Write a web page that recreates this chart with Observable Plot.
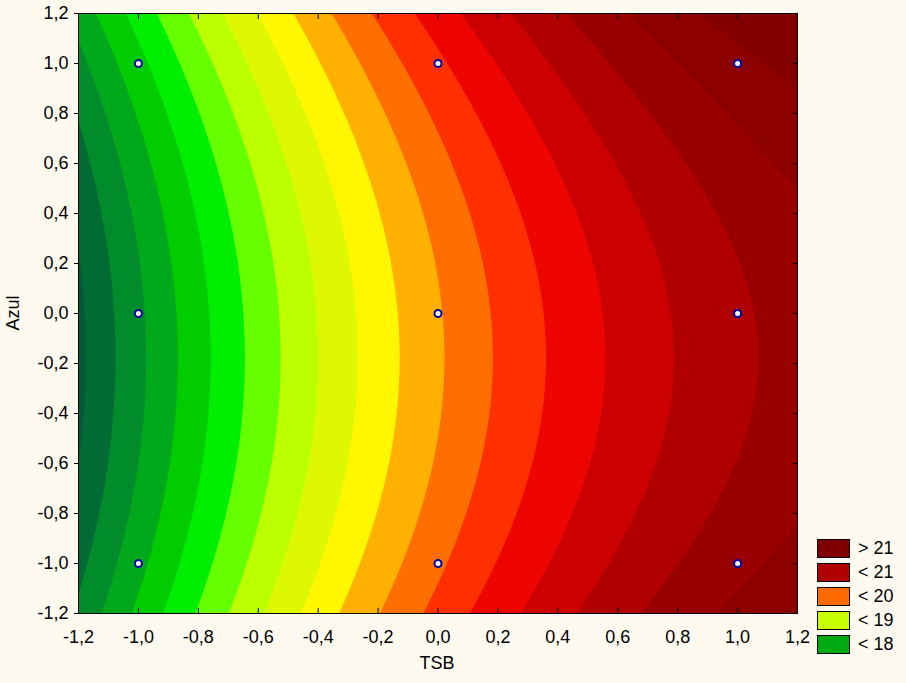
<!DOCTYPE html>
<html><head><meta charset="utf-8">
<script src="https://cdn.jsdelivr.net/npm/d3@7"></script>
<script src="https://cdn.jsdelivr.net/npm/@observablehq/plot@0.6"></script>
<style>
body{margin:0;background:#FFFAF0;}
#wrap{position:relative;width:906px;height:683px;font-family:"Liberation Sans",Arial,sans-serif;color:#000;overflow:hidden;}
#legend{position:absolute;left:817px;top:539px;}
.item{position:relative;height:24px;}
.sw{position:absolute;left:0;top:0;width:33px;height:19px;border:1px solid #000;box-sizing:border-box;}
.lb{position:absolute;left:41px;top:-2px;font-size:18px;line-height:22px;white-space:nowrap;}
.xt{position:absolute;left:0;width:874px;text-align:center;top:653px;font-size:18px;}
.yt{position:absolute;left:13px;top:313px;font-size:18px;transform:translate(-50%,-50%) rotate(-90deg);white-space:nowrap;}
</style>
</head><body>
<div id="wrap"><div id="chart"></div>
<div class="xt">TSB</div>
<div class="yt">Azul</div>
<div id="legend"></div>
</div>
<script>
// design points (coded levels) and fitted response at each point
const xLevels = [-1, 0, 1];
const yLevels = [-1, 0, 1];
const zAtYm1 = [17.925, 19.952, 21.181];
const zAtY0  = [17.699, 19.726, 20.955];
const zAtYp1 = [18.173, 20.200, 21.429];
const zRows = [zAtYm1, zAtY0, zAtYp1];

// contour levels and band colours
const thresholds = [17, 17.25, 17.5, 17.75, 18, 18.25, 18.5, 18.75, 19, 19.25, 19.5, 19.75, 20, 20.25, 20.5, 20.75, 21, 21.25, 21.5, 21.75];
const bandColors = ["#005A38", "#006B33", "#008C2A", "#00A81C", "#00CC00", "#00EE00", "#66FF00", "#BBFF00", "#DDF800", "#FFF700", "#FFB000", "#FF6E00", "#FF3000", "#EE0500", "#CC0000", "#B00000", "#990000", "#8C0000", "#830000", "#7A0000"];

// legend
const legendLabels = ["> 21", "< 21", "< 20", "< 19", "< 18"];
const legendColors = ["#800000", "#B00000", "#FF6A00", "#C8FF00", "#00AA11"];

// ticks
const axisTicks = [-1.2, -1.0, -0.8, -0.6, -0.4, -0.2, 0.0, 0.2, 0.4, 0.6, 0.8, 1.0, 1.2];

const points = [];
yLevels.forEach((y, j) => xLevels.forEach((x, i) => points.push({x, y, z: zRows[j][i]})));

// quadratic (Lagrange) interpolation through the 3x3 design
const L = (t) => [t * (t - 1) / 2, 1 - t * t, t * (t + 1) / 2];
function surface(x, y) {
  const lx = L(x), ly = L(y);
  let s = 0;
  for (let j = 0; j < 3; j++) for (let i = 0; i < 3; i++) s += zRows[j][i] * lx[i] * ly[j];
  return s;
}

const fmt = d => d3.format(".1f")(d).replace("\u2212", "-").replace(".", ",");

const chart = Plot.plot({
  width: 906, height: 683,
  marginLeft: 78, marginRight: 109, marginTop: 13, marginBottom: 70,
  style: {fontFamily: "Liberation Sans, Arial, sans-serif", fontSize: "18px", background: "transparent", color: "#000"},
  x: {domain: [-1.2, 1.2]},
  y: {domain: [-1.2, 1.2]},
  color: {type: "threshold", domain: thresholds.slice(1), range: bandColors},
  marks: [
    Plot.contour({fill: surface, x1: -1.2, x2: 1.2, y1: -1.2, y2: 1.2, thresholds, stroke: "none", pixelSize: 1}),
    Plot.frame({stroke: "#000", strokeWidth: 1}),
    Plot.axisX(axisTicks, {anchor: "bottom", tickSize: 0, tickPadding: 17, tickFormat: fmt, fontSize: 18, label: null}),
    Plot.axisX(axisTicks, {anchor: "bottom", tickSize: -5, text: null, label: null}),
    Plot.axisX(axisTicks, {anchor: "top", tickSize: -5, text: null, label: null}),
    Plot.axisY(axisTicks, {anchor: "left", tickSize: 4, tickPadding: 6, tickFormat: fmt, fontSize: 18, label: null}),
    Plot.axisY(axisTicks, {anchor: "right", tickSize: -5, text: null, label: null}),
    Plot.dot(points, {x: "x", y: "y", r: 3.5, fill: "white", stroke: "#0000AA", strokeWidth: 2})
  ]
});
document.getElementById("chart").appendChild(chart);

const lg = document.getElementById("legend");
legendLabels.forEach((t, i) => {
  const it = document.createElement("div"); it.className = "item";
  const sw = document.createElement("div"); sw.className = "sw"; sw.style.background = legendColors[i];
  const lb = document.createElement("div"); lb.className = "lb"; lb.textContent = t;
  it.appendChild(sw); it.appendChild(lb); lg.appendChild(it);
});
</script>
</body></html>
